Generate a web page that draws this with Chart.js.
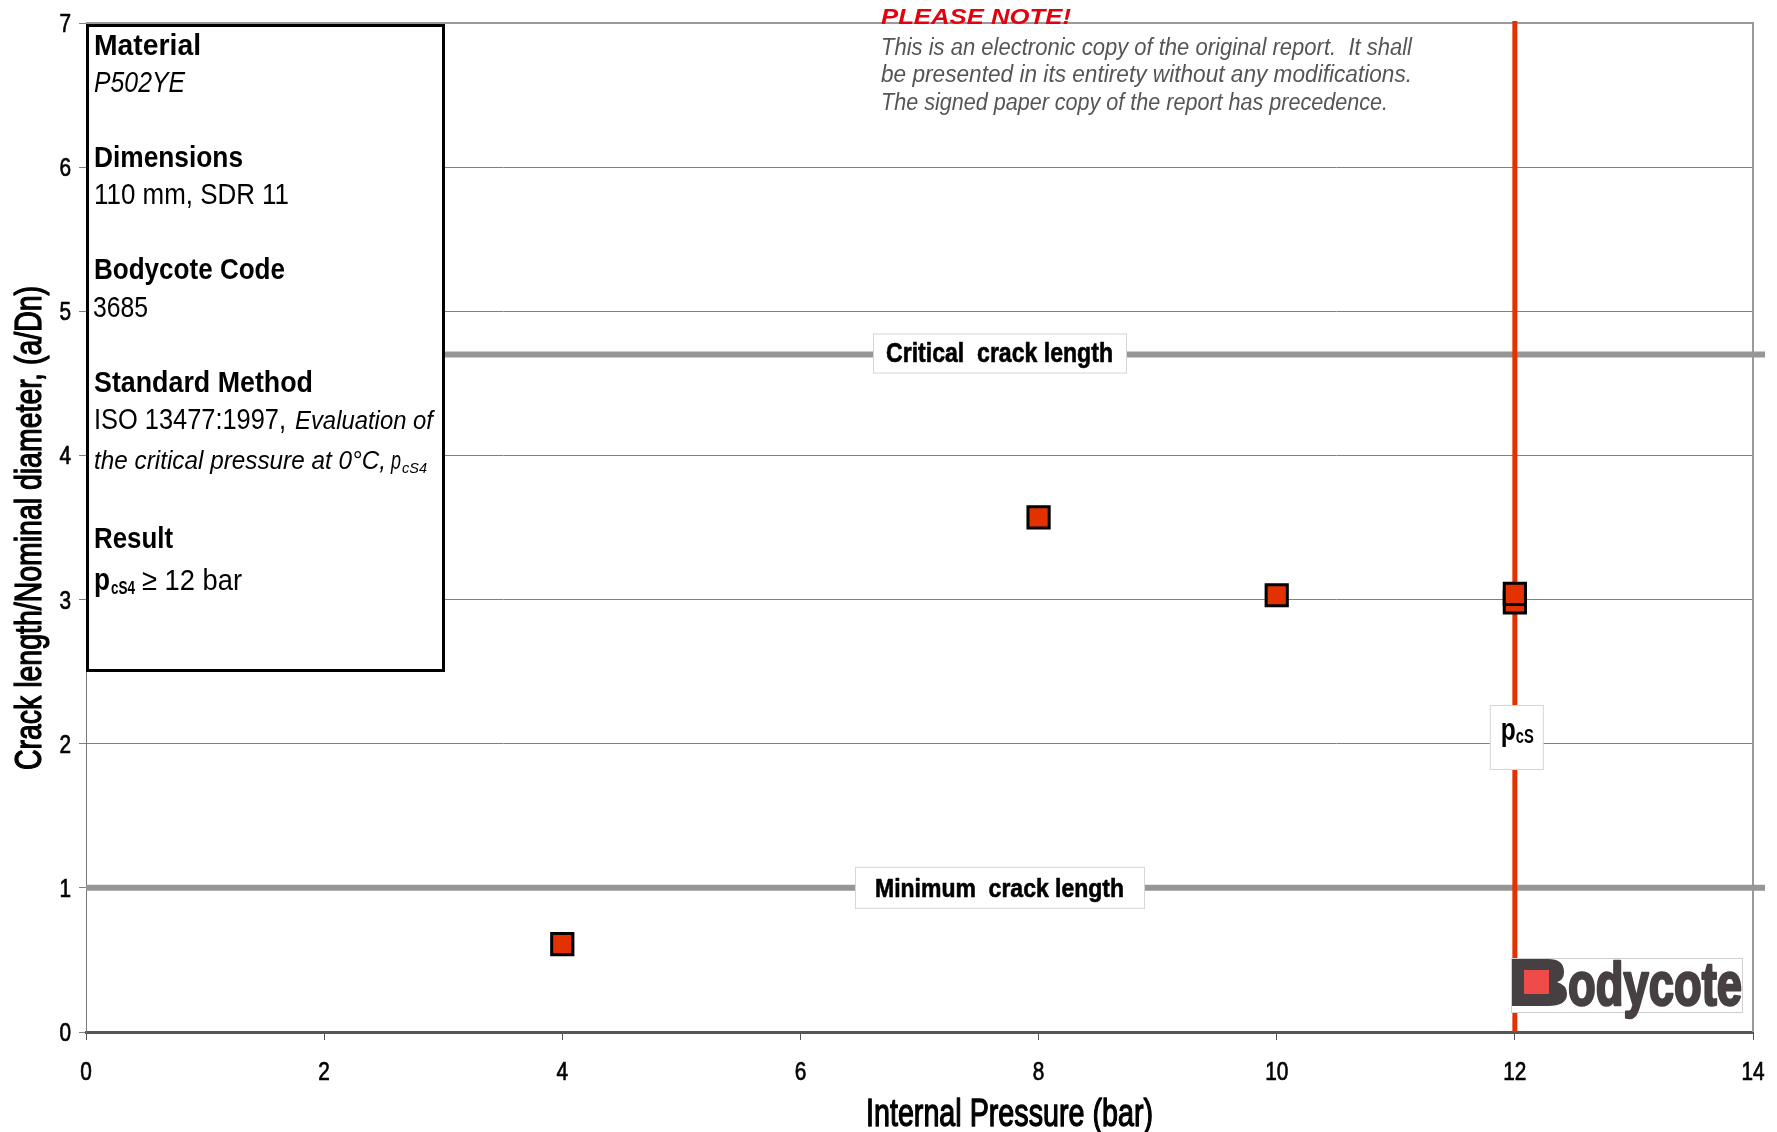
<!DOCTYPE html>
<html><head><meta charset="utf-8">
<script src="https://cdn.jsdelivr.net/npm/chart.js@4.4.0/dist/chart.umd.min.js"></script>
<style>html,body{margin:0;padding:0;background:#fff;overflow:hidden}#wrap{width:1777px;height:1132px;position:relative}</style>
</head><body><div id="wrap"><canvas id="c" width="1777" height="1132"></canvas></div>
<script>
// ---- data ----
const pressures = [4, 8, 10, 12, 12];
const crackRatios = [0.61, 3.57, 3.03, 2.98, 3.04];
const xRange = [0, 14];
const yRange = [0, 7];
const xStep = 2;
const yStep = 1;
const criticalCrackLength = 4.7;
const minimumCrackLength = 1.0;
const criticalPressure = 12;
const xTitle = 'Internal Pressure (bar)';
const yTitle = 'Crack length/Nominal diameter, (a/Dn)';
const noteTitle = 'PLEASE NOTE!';
const noteLines = ['This is an electronic copy of the original report.  It shall',
  'be presented in its entirety without any modifications.',
  'The signed paper copy of the report has precedence.'];

const BASE = "'Liberation Sans', Arial, sans-serif";

function fitText(ctx, text, x, y, font, width, color, align, stroke) {
  ctx.save();
  ctx.font = font; ctx.fillStyle = color; ctx.textBaseline = 'alphabetic'; ctx.textAlign = 'left';
  const w = ctx.measureText(text).width;
  const s = width ? width / w : 1;
  ctx.translate(x, y); ctx.scale(s, 1);
  const ox = align === 'center' ? -w / 2 : (align === 'right' ? -w : 0);
  ctx.fillText(text, ox, 0);
  if (stroke) { ctx.strokeStyle = color; ctx.lineWidth = stroke; ctx.lineJoin = 'round'; ctx.strokeText(text, ox, 0); }
  ctx.restore();
}
function scaledText(ctx, text, x, y, font, sx, color, align, stroke) {
  ctx.save();
  ctx.font = font; ctx.fillStyle = color; ctx.textBaseline = 'alphabetic'; ctx.textAlign = 'left';
  const w = ctx.measureText(text).width;
  ctx.translate(x, y); ctx.scale(sx, 1);
  const ox = align === 'center' ? -w / 2 : (align === 'right' ? -w : 0);
  ctx.fillText(text, ox, 0);
  if (stroke) { ctx.strokeStyle = color; ctx.lineWidth = stroke; ctx.strokeText(text, ox, 0); }
  ctx.restore();
}

const decorPlugin = {
  id: 'decor',
  beforeDatasetsDraw(chart) {
    const ctx = chart.ctx, xs = chart.scales.x, ys = chart.scales.y, a = chart.chartArea;
    ctx.save();
    // top and right frame
    ctx.strokeStyle = '#9a9a9a'; ctx.lineWidth = 2;
    ctx.beginPath(); ctx.moveTo(a.left, a.top); ctx.lineTo(a.right, a.top); ctx.lineTo(a.right, a.bottom); ctx.stroke();
    // threshold lines
    ctx.strokeStyle = '#969696'; ctx.lineWidth = 6;
    [criticalCrackLength, minimumCrackLength].forEach(v => {
      const y = ys.getPixelForValue(v);
      ctx.beginPath(); ctx.moveTo(a.left, y); ctx.lineTo(a.right + 12, y); ctx.stroke();
    });
    // critical pressure line
    const px = xs.getPixelForValue(criticalPressure);
    ctx.strokeStyle = '#e33200'; ctx.lineWidth = 5;
    ctx.beginPath(); ctx.moveTo(px, a.top - 2); ctx.lineTo(px, a.bottom); ctx.stroke();

    // tick labels
    xs.ticks.forEach(t => {
      scaledText(ctx, String(t.value), xs.getPixelForValue(t.value), 1080, '26px ' + BASE, 0.8, '#000', 'center', 0.7);
    });
    ys.ticks.forEach(t => {
      scaledText(ctx, String(t.value), 71, ys.getPixelForValue(t.value) + 9, '26px ' + BASE, 0.8, '#000', 'right', 0.7);
    });
    // axis titles
    fitText(ctx, xTitle, (a.left + a.right) / 2 + 90, 1126, '38px ' + BASE, 287, '#000', 'center', 1.3);
    ctx.save();
    ctx.translate(41, 528); ctx.rotate(-Math.PI / 2);
    fitText(ctx, yTitle, 0, 0, '37px ' + BASE, 484, '#000', 'center', 1.3);
    ctx.restore();
    ctx.restore();
  },
  afterDatasetsDraw(chart) {
    const ctx = chart.ctx, xs = chart.scales.x, ys = chart.scales.y, a = chart.chartArea;
    ctx.save();
    // label boxes
    const box = (x, y, w, h) => {
      ctx.fillStyle = '#fff'; ctx.fillRect(x, y, w, h);
      ctx.strokeStyle = '#d6d6d6'; ctx.lineWidth = 1; ctx.strokeRect(x + 0.5, y + 0.5, w, h);
    };
    const yc = ys.getPixelForValue(criticalCrackLength);
    box(873, yc - 21, 253, 39);
    fitText(ctx, 'Critical  crack length', 999.5, yc + 7, 'bold 27px ' + BASE, 227, '#000', 'center', 0.6);
    const ym = ys.getPixelForValue(minimumCrackLength);
    box(855, ym - 21, 289, 41);
    fitText(ctx, 'Minimum  crack length', 999.5, ym + 9, 'bold 26px ' + BASE, 249, '#000', 'center', 0.6);
    const px = xs.getPixelForValue(criticalPressure);
    box(px - 25, 705, 53, 64);
    fitText(ctx, 'p', px - 14, 740, 'bold 32px ' + BASE, 15, '#000');
    fitText(ctx, 'cS', px + 1, 743, 'bold 20px ' + BASE, 18, '#000');

    // info box
    ctx.fillStyle = '#fff'; ctx.fillRect(a.left, 24, 445 - a.left, 648);
    ctx.strokeStyle = '#000'; ctx.lineWidth = 3;
    ctx.strokeRect(a.left + 1.5, 25.5, 445 - a.left - 3, 645);
    const B = 'bold 29px ' + BASE, R = '30px ' + BASE, I = 'italic 29px ' + BASE, IS = 'italic 25px ' + BASE;
    fitText(ctx, 'Material', 94, 54.5, B, 107, '#000');
    fitText(ctx, 'P502YE', 94, 91.5, I, 91, '#000');
    fitText(ctx, 'Dimensions', 94, 167, B, 149, '#000');
    fitText(ctx, '110 mm, SDR 11', 94, 204, R, 195, '#000');
    fitText(ctx, 'Bodycote Code', 94, 279, B, 191, '#000');
    fitText(ctx, '3685', 93, 317, R, 55, '#000');
    fitText(ctx, 'Standard Method', 94, 391.5, B, 219, '#000');
    fitText(ctx, 'ISO 13477:1997,', 94, 428.6, R, 192, '#000');
    fitText(ctx, 'Evaluation of', 295, 428.6, IS, 138, '#000');
    fitText(ctx, 'the critical pressure at 0\u00B0C,', 94, 469, IS, 292, '#000');
    fitText(ctx, 'p', 391, 469, IS, 10, '#000');
    fitText(ctx, 'cS4', 402, 473, 'italic 15px ' + BASE, 25, '#000');
    fitText(ctx, 'Result', 94, 548, B, 79, '#000');
    fitText(ctx, 'p', 94, 590, 'bold 31px ' + BASE, 16, '#000');
    fitText(ctx, 'cS4', 111, 594, 'bold 19px ' + BASE, 24, '#000');
    fitText(ctx, '\u2265 12 bar', 142, 590, R, 100, '#000');

    // notice
    fitText(ctx, noteTitle, 881, 24, 'bold italic 22px ' + BASE, 190, '#e3000f');
    const nw = [531, 531, 507];
    noteLines.forEach((t, i) => fitText(ctx, t, 881, 55 + i * 27.3, 'italic 23px ' + BASE, nw[i], '#555'));

    // logo
    ctx.fillStyle = '#fff'; ctx.fillRect(1512, 958, 231, 54);
    ctx.strokeStyle = '#d0d0d0'; ctx.lineWidth = 1; ctx.strokeRect(1511.5, 958.5, 231, 54);
    ctx.fillStyle = '#474042';
    ctx.beginPath();
    ctx.moveTo(1512, 959); ctx.lineTo(1548, 959);
    ctx.quadraticCurveTo(1564, 959, 1564, 972);
    ctx.quadraticCurveTo(1564, 980, 1557, 982);
    ctx.quadraticCurveTo(1567, 985, 1567, 994);
    ctx.quadraticCurveTo(1567, 1006, 1548, 1006);
    ctx.lineTo(1512, 1006); ctx.closePath(); ctx.fill();
    ctx.fillStyle = '#ef4b48'; ctx.fillRect(1524, 970, 25, 24);
    ctx.save(); ctx.strokeStyle = '#474042'; ctx.lineWidth = 2.5; ctx.lineJoin = 'round';
    ctx.font = 'bold 62px ' + BASE;
    const lw = ctx.measureText('odycote').width;
    ctx.translate(1568, 1005); ctx.scale(174 / lw, 1);
    ctx.fillStyle = '#474042'; ctx.fillText('odycote', 0, 0); ctx.strokeText('odycote', 0, 0);
    ctx.restore();
    ctx.restore();
  }
};

new Chart(document.getElementById('c').getContext('2d'), {
  type: 'scatter',
  data: {
    datasets: [{
      data: pressures.map((x, i) => ({ x: x, y: crackRatios[i] })),
      pointStyle: 'rect', radius: 15, hoverRadius: 15,
      backgroundColor: '#e33200', borderColor: '#000', borderWidth: 3
    }]
  },
  options: {
    responsive: false, animation: false, events: [],
    layout: { padding: { left: 0, right: 24, top: 23, bottom: 0 } },
    plugins: { legend: { display: false }, tooltip: { enabled: false } },
    scales: {
      x: {
        type: 'linear', min: xRange[0], max: xRange[1],
        ticks: { stepSize: xStep, display: false },
        grid: { drawOnChartArea: false, drawTicks: true, tickLength: 8, color: '#555', lineWidth: 1 },
        border: { color: '#555', width: 3 },
        title: { display: false, text: xTitle },
        afterFit(s) { s.height = 100; }
      },
      y: {
        type: 'linear', min: yRange[0], max: yRange[1],
        ticks: { stepSize: yStep, display: false },
        grid: { color: '#808080', lineWidth: 1, tickLength: 7 },
        border: { color: '#777', width: 1 },
        title: { display: false, text: yTitle },
        afterFit(s) { s.width = 86; }
      }
    }
  },
  plugins: [decorPlugin]
});
</script></body></html>
